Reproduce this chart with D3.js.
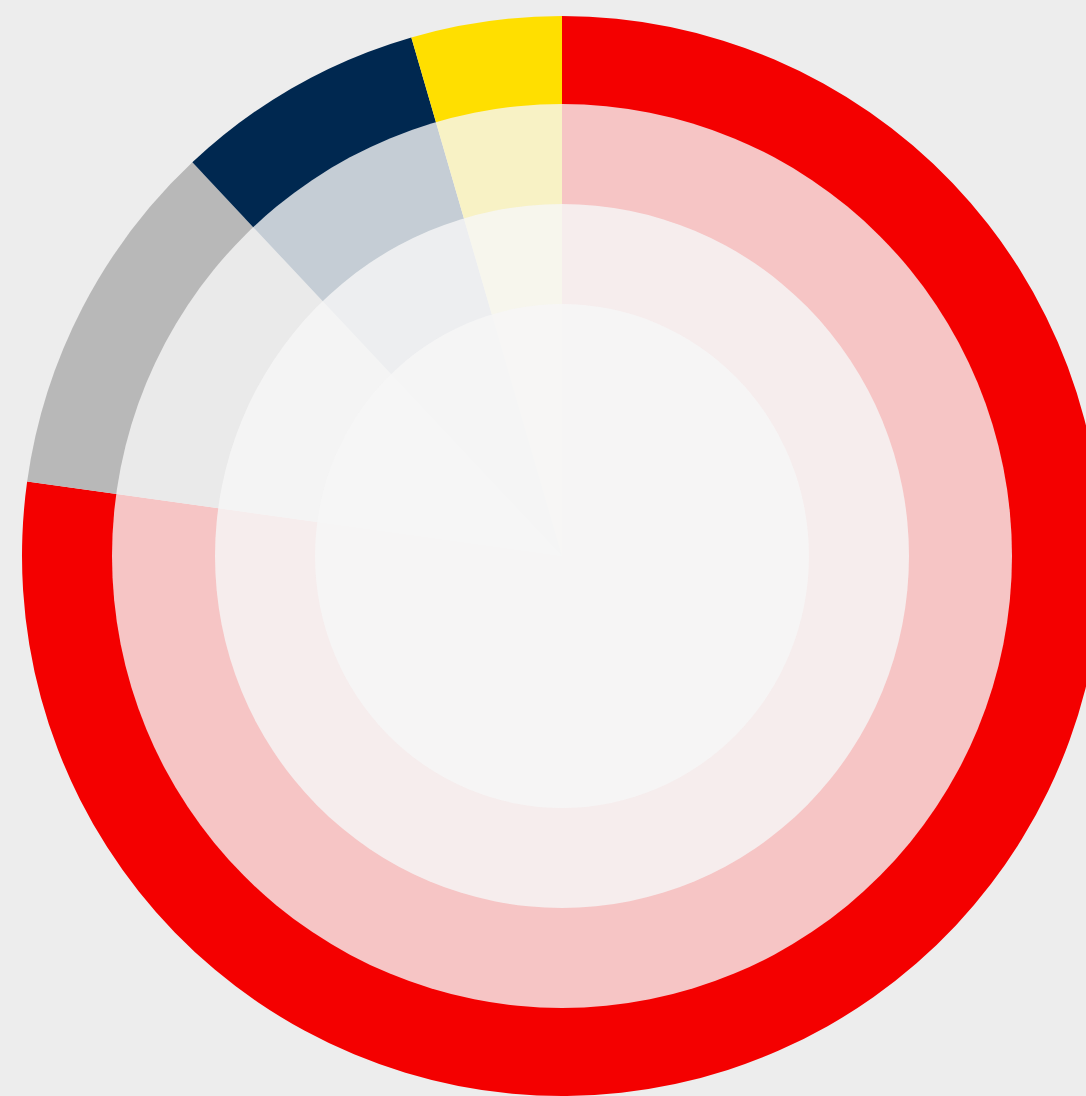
<!DOCTYPE html>
<html>
<head>
<meta charset="utf-8">
<script src="https://cdn.jsdelivr.net/npm/d3@7"></script>
<style>
  html, body { margin: 0; padding: 0; background: #ededed; }
  svg { display: block; }
</style>
</head>
<body>
<div id="chart"></div>
<script>
const categories = ["A", "B", "C", "D"];
const values = [77.2, 10.8, 7.5, 4.5];
const colors = ["#f40000", "#b8b8b8", "#002850", "#ffdf00"];

const width = 1086, height = 1096;
const cx = 562, cy = 556;
const outerRadius = 540;
// fade rings, outside in (they are a touch taller than wide)
const fadeRx = [450, 347, 247];
const fadeRy = [452, 352, 252];

const data = categories.map((c, i) => ({ name: c, value: values[i] }));

const color = d3.scaleOrdinal().domain(categories).range(colors);

const pie = d3.pie()
    .value(d => d.value)
    .sort(null);

const arc = d3.arc()
    .innerRadius(0)
    .outerRadius(outerRadius);

const svg = d3.select("#chart")
    .append("svg")
    .attr("width", width)
    .attr("height", height)
    .append("g")
    .attr("transform", `translate(${cx},${cy})`);

svg.selectAll(".slice")
    .data(pie(data))
    .enter()
    .append("path")
    .attr("class", "slice")
    .attr("fill", d => color(d.data.name))
    .attr("d", arc);

// semi transparent ellipses laid on top, each one lighter toward the middle
svg.selectAll(".fade")
    .data(fadeRx)
    .enter()
    .append("ellipse")
    .attr("class", "fade")
    .attr("rx", d => d)
    .attr("ry", (d, i) => fadeRy[i])
    .attr("fill", "#f6f6f6")
    .attr("fill-opacity", 0.8);
</script>
</body>
</html>
